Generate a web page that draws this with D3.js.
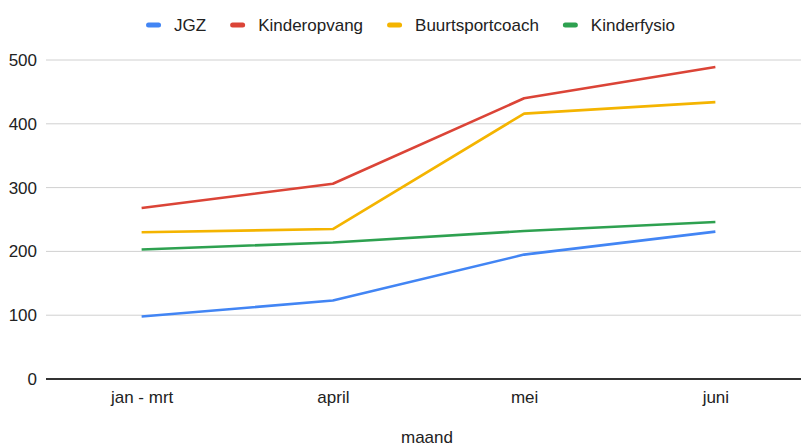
<!DOCTYPE html>
<html>
<head>
<meta charset="utf-8">
<script src="https://cdn.jsdelivr.net/npm/d3@7/dist/d3.min.js"></script>
<style>
  html, body { margin: 0; padding: 0; background: #fff; }
  svg { display: block; font-family: "Liberation Sans", Arial, sans-serif; }
</style>
</head>
<body>
<svg id="chart" width="801" height="446"></svg>
<script>
const categories = ["jan - mrt", "april", "mei", "juni"];
const seriesNames = ["JGZ", "Kinderopvang", "Buurtsportcoach", "Kinderfysio"];
const seriesColors = ["#4285F4", "#DB4437", "#F4B400", "#2EA150"];
const jgz = [98, 123, 195, 231];
const kinderopvang = [268, 306, 440, 489];
const buurtsportcoach = [230, 235, 416, 434];
const kinderfysio = [203, 214, 232, 246];
const yTicks = [0, 100, 200, 300, 400, 500];
const xTitle = "maand";

(function () {
const seriesValues = [jgz, kinderopvang, buurtsportcoach, kinderfysio];

const svg = d3.select("#chart");
const mLeft = 46, mRight = 811, mTop = 60, mBottom = 379;

const x = d3.scalePoint().domain(categories).range([mLeft, mRight]).padding(0.5);
const y = d3.scaleLinear().domain([0, 500]).range([mBottom, mTop]);

// gridlines
svg.append("g").selectAll("line").data(yTicks.filter(d => d !== 0)).join("line")
  .attr("x1", mLeft).attr("x2", mRight)
  .attr("y1", d => y(d)).attr("y2", d => y(d))
  .attr("stroke", "#d0d0d0").attr("stroke-width", 1);

// y labels
const yAxis = d3.axisLeft(y).tickValues(yTicks).tickSize(0).tickPadding(9);
const gy = svg.append("g").attr("transform", `translate(${mLeft},0)`).call(yAxis);
gy.select(".domain").remove();
gy.selectAll("text").attr("font-size", 17).attr("fill", "#222")
  .attr("font-family", "Liberation Sans, Arial, sans-serif");

// lines
const line = d3.line().x((d, i) => x(categories[i])).y(d => y(d));
svg.append("g").selectAll("path").data(seriesValues).join("path")
  .attr("d", d => line(d))
  .attr("fill", "none")
  .attr("stroke", (d, i) => seriesColors[i])
  .attr("stroke-width", 2.6)
  .attr("stroke-linejoin", "round");

// baseline axis
svg.append("line").attr("x1", mLeft).attr("x2", mRight)
  .attr("y1", y(0)).attr("y2", y(0))
  .attr("stroke", "#333").attr("stroke-width", 2);

// x labels
const xAxis = d3.axisBottom(x).tickSize(0).tickPadding(12);
const gx = svg.append("g").attr("transform", `translate(0,${mBottom})`).call(xAxis);
gx.select(".domain").remove();
gx.selectAll("text").attr("font-size", 17).attr("fill", "#222")
  .attr("font-family", "Liberation Sans, Arial, sans-serif");

// x title
svg.append("text").attr("x", 427).attr("y", 443)
  .attr("text-anchor", "middle").attr("font-size", 17).attr("fill", "#222")
  .text(xTitle);

// legend
const legend = svg.append("g");
const items = legend.selectAll("g").data(seriesNames).join("g");
items.append("rect").attr("width", 15).attr("height", 5).attr("rx", 2.5)
  .attr("y", 22.5).attr("fill", (d, i) => seriesColors[i]);
items.append("text").attr("x", 28).attr("y", 31)
  .attr("font-size", 17).attr("fill", "#222").text(d => d);
const widths = [];
items.each(function () {
  const w = 28 + d3.select(this).select("text").node().getComputedTextLength();
  widths.push(w);
});
const gap = 24;
const total = d3.sum(widths) + gap * (widths.length - 1);
let start = 410.5 - total / 2;
items.attr("transform", (d, i) => {
  const t = `translate(${start},0)`;
  start += widths[i] + gap;
  return t;
});
})();
</script>
</body>
</html>
